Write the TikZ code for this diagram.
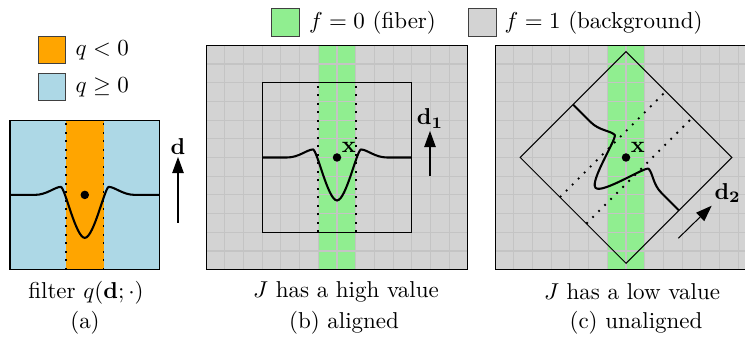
\documentclass[tikz,border=0pt]{standalone}
\usepackage{amsmath,amssymb}
\usepackage{tikz}
\usetikzlibrary{arrows.meta,positioning}
\definecolor{fibergreen}{rgb}{0.565,0.933,0.565}
\definecolor{bggray}{rgb}{0.827,0.827,0.827}
\definecolor{qblue}{rgb}{0.678,0.847,0.902}
\definecolor{qorange}{rgb}{1,0.647,0}
\definecolor{gridgray}{rgb}{0.77,0.77,0.77}
\newcommand{\filtpath}{(-74.8,0) -- (-50,0) .. controls (-38,0) and (-30,8) .. (-24,8)
  .. controls (-20,8) and (-9,-43) .. (0,-43) .. controls (9,-43) and (20,8) .. (24,8)
  .. controls (30,8) and (38,0) .. (50,0) -- (74.8,0)}

\begin{document}
\begin{tikzpicture}[x=0.435pt, y=0.435pt,
    frame/.style={draw=black, line width=0.45pt},
    gridline/.style={draw=gridgray, line width=0.5pt},
    edgeline/.style={line width=0.8pt, dash pattern=on 0.8pt off 2.9pt},
    curve/.style={line width=0.9pt},
    dot/.style={circle, fill=black, inner sep=0pt, minimum size=3.7pt},
    legsq/.style={draw=black!75, line width=0.45pt, minimum size=12pt, inner sep=0pt},
    arr/.style={-{Triangle[length=7pt, width=5pt]}, line width=0.45pt}
]
    \useasboundingbox (0,0) rectangle (745,345);

    \node[legsq, fill=qorange] (lq0) at (52,295) {};
    \node[right=0.5pt of lq0] (tq0) {$q<0$};
    \node[legsq, fill=qblue] (lq1) at (52,258) {};
    \node[right=0.5pt of lq1] (tq1) {$q\geq 0$};
    \node[legsq, fill=fibergreen] (lf0) at (285.5,322.7) {};
    \node[right=0.5pt of lf0] (tf0) {$f=0$ (fiber)};
    \node[legsq, fill=bggray] (lf1) at (482.3,322.7) {};
    \node[right=0pt of lf1] (tf1) {$f=1$ (background)};

    % (a) filter
    \begin{scope}[shift={(84.8,150.1)}]
        \fill[qblue] (-74.8,-74.8) rectangle (74.8,74.8);
        \fill[qorange] (-18.7,-74.8) rectangle (18.7,74.8);
        \draw[frame] (-74.8,-74.8) rectangle (74.8,74.8);
        \draw[edgeline] (-18.7,-74.8) -- (-18.7,74.8) (18.7,-74.8) -- (18.7,74.8);
        \draw[curve] \filtpath;
        \node[dot] (xa) at (0,0) {};
    \end{scope}
    \coordinate (da0) at (178,122);
    \coordinate (da1) at (178,188);
    \draw[arr] (da0) -- (da1) node[above, inner sep=1pt] (dal) {$\mathbf{d}$};
    \node (capa) at (86,52) {filter $q(\mathbf{d};\cdot)$};
    \node (suba) at (85,22) {(a)};

    % (b) aligned
    \begin{scope}[shift={(337,187.5)}]
        \fill[bggray] (-130.9,-112.2) rectangle (130.9,112.2);
        \fill[fibergreen] (-18.7,-112.2) rectangle (18.7,112.2);
        \foreach \i in {-6,...,6} \draw[gridline] (\i*18.7,-112.2) -- (\i*18.7,112.2);
        \foreach \j in {-5,...,5} \draw[gridline] (-130.9,\j*18.7) -- (130.9,\j*18.7);
        \draw[frame] (-130.9,-112.2) rectangle (130.9,112.2);
        \draw[frame] (-74.8,-74.8) rectangle (74.8,74.8);
        \draw[edgeline] (-18.7,-74.8) -- (-18.7,74.8) (18.7,-74.8) -- (18.7,74.8);
        \draw[curve] \filtpath;
        \node[dot] (xb) at (0,0) {};
    \end{scope}
    \node[anchor=south west, inner sep=0.5pt] (xbl) at (xb.north east) {$\mathbf{x}$};
    \coordinate (db0) at (430,169.3);
    \coordinate (db1) at (430,214);
    \draw[arr] (db0) -- (db1) node[above, inner sep=1pt] (dbl) {$\mathbf{d_1}$};
    \node (capb) at (346,53) {$J$ has a high value};
    \node (subb) at (344,22) {(b) aligned};

    % (c) unaligned
    \begin{scope}[shift={(626,187.5)}]
        \begin{scope}
            \clip (-130.9,-113) rectangle (119,113);
            \fill[bggray] (-130.9,-112.2) rectangle (130.9,112.2);
            \fill[fibergreen] (-18.7,-112.2) rectangle (18.7,112.2);
            \foreach \i in {-6,...,6} \draw[gridline] (\i*18.7,-112.2) -- (\i*18.7,112.2);
            \foreach \j in {-5,...,5} \draw[gridline] (-130.9,\j*18.7) -- (130.9,\j*18.7);
            \draw[frame] (-130.9,-112.2) rectangle (130.9,112.2);
        \end{scope}
        \begin{scope}[rotate=-45]
            \draw[frame] (-74.8,-74.8) rectangle (74.8,74.8);
            \draw[edgeline] (-18.7,-74.8) -- (-18.7,74.8) (18.7,-74.8) -- (18.7,74.8);
            \draw[curve] \filtpath;
        \end{scope}
        \node[dot] (xc) at (0,0) {};
    \end{scope}
    \node[anchor=south west, inner sep=0.5pt] (xcl) at (xc.north east) {$\mathbf{x}$};
    \coordinate (dc0) at (678.3,106.7);
    \coordinate (dc1) at (711.7,139.3);
    \draw[arr] (dc0) -- (dc1) node[above right, inner sep=1pt] (dcl) {$\mathbf{d_2}$};
    \node (capc) at (632,53) {$J$ has a low value};
    \node (subc) at (636,22) {(c) unaligned};
\end{tikzpicture}
\end{document}
